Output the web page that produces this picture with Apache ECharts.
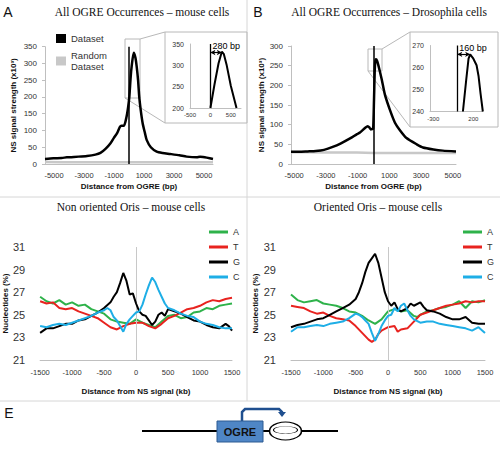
<!DOCTYPE html>
<html><head><meta charset="utf-8">
<script src="https://cdn.jsdelivr.net/npm/echarts@6/dist/echarts.min.js"></script>
<style>html,body{margin:0;padding:0;background:#fff}#c{width:500px;height:449px}</style>
</head><body><div id="c"></div><script>
// ---------------- DATA ----------------
const ticksA = [-5000, -3000, -1000, 1000, 3000, 5000];
const ticksInsetA = [-500, 0, 500];
const ticksInsetB = [-300, 200];
const peakShiftA = 280;   // bp
const peakShiftB = 160;   // bp
const peakLevelA = 330;
const peakLevelB = 266;

const datasetA = [[-5000,15],[-4500,17],[-4000,18],[-3700,20],[-3000,22],[-2500,24],[-2000,28],[-1700,33],[-1400,45],[-1100,62],[-900,78],[-700,93],[-550,110],[-450,114],[-300,114],[-150,140],[-50,170],[20,200],[100,260],[160,292],[280,332],[380,318],[460,290],[540,250],[610,200],[700,160],[815,121],[950,92],[1050,72],[1300,50],[1650,37],[2000,33],[2440,30],[3000,26],[3430,22],[4030,20],[4230,22],[4400,21],[4625,19],[5000,15]];
const randomA = [[-5000,6],[-4000,5],[-3000,5],[-2000,5],[-1000,5],[0,5],[1000,5],[2000,5],[3000,5],[4000,5],[5000,5]];
const insetA = [[0,200],[100,255],[200,305],[280,332],[330,326],[400,300],[500,252],[640,200]];

const datasetB = [[-5000,31],[-4500,31],[-4000,32],[-3500,33],[-3000,36],[-2430,44],[-2000,52],[-1420,65],[-1000,76],[-820,80],[-500,92],[-350,96],[-250,93],[-170,88],[-80,89],[-20,90],[30,162],[70,230],[100,258],[150,266],[220,262],[300,250],[500,215],[700,175],[1000,137],[1300,105],[1600,86],[2000,66],[2620,50],[3000,42],[3630,37],[4200,34],[5000,32]];
const randomB = [[-5000,30],[-4000,30],[-3000,29],[-2000,29],[-1000,29],[0,28],[1000,28],[2000,28],[3000,28],[4000,28],[5000,28]];
const insetB = [[70,240],[110,254],[140,264],[160,266],[200,264],[240,261],[265,256],[290,248],[318,240]];

const bases = ['A','T','G','C'];
const nonOriented = {
 A: [[-1500,26.6],[-1400,26.2],[-1300,26.0],[-1200,26.3],[-1100,25.9],[-1000,26.1],[-900,25.8],[-800,25.9],[-700,25.5],[-600,25.3],[-500,25.1],[-400,24.6],[-300,24.4],[-200,24.3],[-100,24.2],[0,24.6],[100,24.3],[200,24.1],[300,23.9],[400,24.4],[500,24.9],[600,25.0],[700,24.7],[800,24.8],[900,25.2],[1000,25.3],[1100,25.6],[1200,25.5],[1300,25.8],[1400,25.9],[1500,26.0]],
 T: [[-1500,26.2],[-1400,26.0],[-1300,26.1],[-1200,25.6],[-1100,25.5],[-1000,25.6],[-900,25.3],[-800,25.1],[-700,24.9],[-600,24.7],[-500,24.3],[-400,23.9],[-300,23.7],[-200,24.0],[-100,24.2],[0,24.3],[100,24.3],[200,24.0],[300,23.8],[400,24.2],[500,24.7],[600,24.9],[700,25.2],[800,25.5],[900,25.6],[1000,25.8],[1100,26.1],[1200,26.3],[1300,26.2],[1400,26.4],[1500,26.5]],
 G: [[-1500,23.4],[-1400,23.8],[-1300,23.8],[-1200,24.0],[-1100,24.2],[-1000,24.2],[-900,24.5],[-800,24.6],[-700,24.9],[-600,25.2],[-500,25.6],[-400,26.1],[-350,26.6],[-300,27.0],[-250,27.8],[-200,28.7],[-150,28.0],[-100,26.8],[-50,26.9],[0,26.0],[50,25.3],[100,25.0],[150,24.9],[200,24.5],[250,24.1],[300,24.4],[350,25.0],[400,25.2],[450,24.9],[500,25.5],[600,25.3],[700,25.1],[800,24.8],[900,24.5],[1000,24.4],[1100,24.1],[1200,23.9],[1300,23.8],[1400,24.2],[1450,24.0],[1500,23.6]],
 C: [[-1500,24.0],[-1400,23.9],[-1300,24.1],[-1200,24.2],[-1100,24.1],[-1000,24.3],[-900,24.5],[-800,24.7],[-700,24.9],[-600,25.2],[-500,25.4],[-450,25.6],[-400,25.4],[-350,24.8],[-300,24.5],[-250,24.0],[-200,23.5],[-150,24.2],[-100,24.6],[-50,24.9],[0,25.2],[50,25.3],[100,25.9],[150,26.8],[200,27.6],[250,28.3],[300,27.9],[350,27.2],[400,26.6],[450,26.0],[500,25.6],[600,25.4],[700,25.1],[800,24.9],[900,24.8],[1000,24.4],[1100,24.2],[1200,24.1],[1300,23.9],[1400,23.8],[1500,23.8]]
};
const oriented = {
 A: [[-1500,26.8],[-1400,26.3],[-1300,26.1],[-1200,26.2],[-1100,26.3],[-1000,26.0],[-900,25.9],[-800,25.8],[-700,25.6],[-600,25.3],[-500,25.2],[-400,24.9],[-300,24.5],[-200,24.2],[-100,24.6],[0,25.3],[100,25.5],[200,25.3],[300,25.4],[400,24.9],[450,24.8],[500,25.0],[600,25.3],[700,25.4],[800,25.6],[900,25.7],[1000,25.9],[1100,26.2],[1200,25.6],[1300,26.2],[1400,26.1],[1500,26.3]],
 T: [[-1500,25.8],[-1400,25.7],[-1300,25.6],[-1200,25.3],[-1100,25.1],[-1000,25.2],[-900,24.9],[-800,24.7],[-700,24.6],[-600,24.5],[-500,24.0],[-400,23.4],[-300,22.8],[-250,22.6],[-200,22.8],[-150,23.3],[-100,23.6],[0,23.9],[100,24.0],[150,23.5],[200,23.7],[300,23.8],[400,24.4],[500,25.0],[600,25.2],[700,25.4],[800,25.6],[900,25.8],[1000,25.9],[1100,26.0],[1200,26.2],[1300,26.1],[1400,26.2],[1500,26.2]],
 G: [[-1500,23.9],[-1400,24.1],[-1300,24.2],[-1200,24.4],[-1100,24.6],[-1000,24.7],[-900,25.0],[-800,25.3],[-700,25.6],[-600,25.9],[-500,26.4],[-450,27.0],[-400,27.8],[-350,28.8],[-300,29.6],[-250,30.0],[-200,30.4],[-150,29.6],[-100,28.3],[-50,27.0],[0,26.2],[50,25.8],[100,26.1],[150,25.5],[200,25.3],[300,25.6],[350,26.0],[400,25.8],[500,26.1],[550,25.7],[600,25.4],[700,25.3],[800,25.1],[900,24.8],[1000,24.6],[1100,24.6],[1200,24.8],[1300,24.3],[1400,24.2],[1500,24.2]],
 C: [[-1500,23.5],[-1400,23.9],[-1300,23.9],[-1200,24.0],[-1100,24.1],[-1000,24.0],[-900,24.2],[-800,24.3],[-700,24.4],[-600,24.7],[-500,25.1],[-450,25.0],[-400,24.8],[-350,24.5],[-300,24.2],[-250,23.4],[-200,22.7],[-150,23.3],[-100,24.0],[-50,24.5],[0,24.9],[50,25.0],[100,25.6],[150,25.3],[200,25.8],[250,26.0],[300,25.4],[350,24.9],[400,24.6],[500,24.3],[600,24.4],[700,24.4],[800,24.2],[900,24.1],[1000,24.0],[1100,23.9],[1200,23.8],[1300,23.6],[1400,23.9],[1500,23.4]]
};

// ---------------- STYLE ----------------
const SANS = 'Liberation Sans, Arial, sans-serif';
const SERIF = 'Liberation Serif, Times New Roman, serif';
const baseColors = {A:'#2eb24a', T:'#e8231f', G:'#000000', C:'#1eaee6'};
const AX = '#bfbfbf';
const TXT = '#333';
const plain = v => String(v);

function lbl(o) {
  return Object.assign({color:TXT, fontFamily:SANS, fontSize:8, formatter:plain}, o);
}
function valAxis(o) {
  return Object.assign({
    type: 'value', splitLine: {show:false},
    axisLine: {show:true, onZero:false, lineStyle:{color:AX, width:1}},
    axisTick: {show:false},
    axisLabel: lbl({}),
    nameTextStyle: {fontFamily:SANS, fontSize:8, fontWeight:'bold', color:'#111'}
  }, o);
}

const chart = echarts.init(document.getElementById('c'), null, {renderer:'svg'});

const xAxes = [
  valAxis({gridIndex:0, min:-5000, max:5000, position:'bottom', axisLabel:{show:false}}),
  valAxis({gridIndex:0, min:-5600, max:5600, position:'bottom', axisLine:{show:false, onZero:false},
    axisLabel:lbl({customValues:ticksA, fontSize:7.5, margin:7}),
    name:'Distance from OGRE (bp)', nameLocation:'middle', nameGap:18}),
  valAxis({gridIndex:1, min:-500, max:750, position:'bottom',
    axisLabel:lbl({customValues:ticksInsetA, fontSize:6, margin:4})}),
  valAxis({gridIndex:2, min:-5000, max:5000, position:'bottom', axisLabel:{show:false}}),
  valAxis({gridIndex:2, min:-5200, max:5200, position:'bottom', axisLine:{show:false, onZero:false},
    axisLabel:lbl({customValues:ticksA, fontSize:7.5, margin:7}),
    name:'Distance from OGRE (bp)', nameLocation:'middle', nameGap:18}),
  valAxis({gridIndex:3, min:-340, max:320, position:'bottom',
    axisLabel:lbl({customValues:ticksInsetB, fontSize:6, margin:4})}),
  valAxis({gridIndex:4, min:-1500, max:1500, interval:500, position:'bottom',
    axisLabel:lbl({fontSize:7.5, margin:8}),
    name:'Distance from NS signal (kb)', nameLocation:'middle', nameGap:27}),
  valAxis({gridIndex:5, min:-1500, max:1500, interval:500, position:'bottom',
    axisLabel:lbl({fontSize:7.5, margin:8}),
    name:'Distance from NS signal (kb)', nameLocation:'middle', nameGap:27})
];
const yAxes = [
  valAxis({gridIndex:0, min:0, max:350, interval:50, axisTick:{show:true, length:3, lineStyle:{color:AX}},
    name:'NS signal strength (x10³)', nameLocation:'middle', nameGap:28}),
  valAxis({gridIndex:1, min:200, max:350, interval:50, axisLabel:lbl({fontSize:7, margin:6})}),
  valAxis({gridIndex:2, min:0, max:300, interval:50, axisTick:{show:true, length:3, lineStyle:{color:AX}},
    name:'NS signal strength (x10³)', nameLocation:'middle', nameGap:24}),
  valAxis({gridIndex:3, min:240, max:270, interval:10, axisLabel:lbl({fontSize:7, margin:6})}),
  valAxis({gridIndex:4, min:21, max:31, interval:2, axisLine:{show:false},
    axisLabel:lbl({fontSize:11, margin:15}),
    name:'Nucleotides (%)', nameLocation:'middle', nameGap:25}),
  valAxis({gridIndex:5, min:21, max:31, interval:2, axisLine:{show:false},
    axisLabel:lbl({fontSize:11, margin:15}),
    name:'Nucleotides (%)', nameLocation:'middle', nameGap:25})
];

const vLine = (color, width) => ({symbol:'none', silent:true, animation:false, label:{show:false},
  lineStyle:{color:color, width:width, type:'solid'}, data:[{xAxis:0}]});

function arrowMark(shift, level) {
  return {
    silent:true, animation:false, symbol:'none',
    lineStyle:{color:'#000', width:1.2, type:'solid'},
    data:[
      {xAxis:0, label:{show:false}, lineStyle:{width:1.3}},
      [{coord:[0, level], symbol:'arrow', symbolSize:[4,5],
        label:{show:true, position:'insideStartTop', formatter: shift + ' bp', color:'#000', fontFamily:SANS, fontSize:9, distance:2}},
       {coord:[shift, level], symbol:'arrow', symbolSize:[4,5]}]
    ]
  };
}

const series = [
  {name:'Random Dataset', type:'line', xAxisIndex:0, yAxisIndex:0, data:randomA, color:'#c8c8c8', showSymbol:false, lineStyle:{width:2.5}},
  {name:'Dataset', type:'line', xAxisIndex:0, yAxisIndex:0, data:datasetA, color:'#000', showSymbol:false, smooth:0.2, lineStyle:{width:2.5}, markLine:vLine('#000',1.5)},
  {name:'insetA', type:'line', xAxisIndex:2, yAxisIndex:1, data:insetA, color:'#000', showSymbol:false, lineStyle:{width:2}, markLine:arrowMark(peakShiftA, peakLevelA)},
  {name:'Random Dataset', type:'line', xAxisIndex:3, yAxisIndex:2, data:randomB, color:'#c8c8c8', showSymbol:false, lineStyle:{width:2.5}},
  {name:'Dataset', type:'line', xAxisIndex:3, yAxisIndex:2, data:datasetB, color:'#000', showSymbol:false, smooth:0.2, lineStyle:{width:2.5}, markLine:vLine('#000',1.5)},
  {name:'insetB', type:'line', xAxisIndex:5, yAxisIndex:3, data:insetB, color:'#000', showSymbol:false, lineStyle:{width:2}, markLine:arrowMark(peakShiftB, peakLevelB)}
];
bases.forEach((b, i) => {
  series.push({name:b, type:'line', xAxisIndex:6, yAxisIndex:4, data:nonOriented[b], color:baseColors[b],
    showSymbol:false, lineStyle:{width:2}, z: 3 + i,
    markLine: i === 0 ? vLine('#c8c8c8', 1) : undefined});
});
bases.forEach((b, i) => {
  series.push({name:b, type:'line', xAxisIndex:7, yAxisIndex:5, data:oriented[b], color:baseColors[b],
    showSymbol:false, lineStyle:{width:2}, z: 3 + i,
    markLine: i === 0 ? vLine('#c8c8c8', 1) : undefined});
});

const legendBase = {orient:'vertical', icon:'rect', itemWidth:19, itemHeight:3, itemGap:5,
  textStyle:{fontFamily:SANS, fontSize:9, color:TXT, lineHeight:10}, selectedMode:false};

const sep = '#d6d6d6';
const gray = '#b8b8b8';
const txt = (x, y, s, font, size, weight, align) => ({type:'text', x:x, y:y, silent:true,
  style:{text:s, fontFamily:font, fontSize:size, fontWeight:weight||'normal', fill:'#111',
  align:align||'center', verticalAlign:'middle'}});
const ln = (x1,y1,x2,y2,color,w) => ({type:'line', silent:true, shape:{x1:x1,y1:y1,x2:x2,y2:y2}, style:{stroke:color, lineWidth:w}});

const graphics = [
  // separators
  ln(0,197,500,197,sep,1), ln(0,401,500,401,sep,1), ln(247,0,247,401,sep,1),
  // titles and panel letters
  txt(8,12,'A',SANS,14,'normal'), txt(142,12,'All OGRE Occurrences – mouse cells',SERIF,11.5),
  txt(258,12,'B',SANS,14,'normal'), txt(389,12,'All OGRE Occurrences – Drosophila cells',SERIF,11.5),
  txt(131,207,'Non oriented Oris – mouse cells',SERIF,11.5),
  txt(378,207,'Oriented Oris – mouse cells',SERIF,11.5),
  txt(9,413,'E',SANS,14,'normal'),
  // inset frames and zoom windows
  {type:'rect', silent:true, shape:{x:165,y:32,width:82,height:91}, style:{fill:'none', stroke:gray, lineWidth:1}},
  {type:'rect', silent:true, shape:{x:125,y:39,width:15,height:59}, style:{fill:'none', stroke:gray, lineWidth:1}},
  ln(140,39,165,32,gray,1), ln(125,98,165,123,gray,1),
  {type:'rect', silent:true, shape:{x:410,y:32,width:88,height:95}, style:{fill:'none', stroke:gray, lineWidth:1}},
  {type:'rect', silent:true, shape:{x:368,y:49,width:14,height:22}, style:{fill:'none', stroke:gray, lineWidth:1}},
  ln(382,49,410,32,gray,1), ln(368,71,410,127,gray,1),
  // panel E diagram
  ln(142,431,217,431,'#000',2), ln(263,431,270,431,'#000',2), ln(301,431,338,431,'#000',2),
  {type:'polyline', silent:true, shape:{points:[[242,421],[242,412],[245,409],[279,409],[282,412],[282,413]]},
    style:{stroke:'#1f4f8f', lineWidth:2.5, fill:'none'}},
  {type:'polygon', silent:true, shape:{points:[[278,412],[286,412],[282,417]]}, style:{fill:'#1f4f8f'}},
  {type:'rect', silent:true, shape:{x:217,y:421,width:46,height:21}, style:{fill:'#4f86c6', stroke:'#2d5a92', lineWidth:1}},
  txt(240,432,'OGRE',SANS,11,'bold'),
  {type:'circle', silent:true, x:285.5, y:431, scaleY:0.56, shape:{cx:0,cy:0,r:16}, style:{fill:'#fff', stroke:'#000', lineWidth:1.6}},
  {type:'circle', silent:true, x:285.5, y:430, scaleY:0.3, shape:{cx:0,cy:0,r:12}, style:{fill:'none', stroke:'#000', lineWidth:1.2}}
];

chart.setOption({
  animation:false,
  backgroundColor:'#fff',
  grid:[
    {left:45, top:46.7, width:168, height:117.3},
    {left:190, top:44, width:51, height:64},
    {left:291, top:46, width:165, height:118},
    {left:430, top:45.5, width:53, height:66},
    {left:39, top:247, width:193, height:113},
    {left:291, top:247, width:194, height:113}
  ],
  xAxis:xAxes, yAxis:yAxes, series:series,
  legend:[
    {orient:'vertical', icon:'rect', left:51, top:28, itemWidth:10, itemHeight:9, itemGap:6, selectedMode:false,
      data:['Dataset','Random Dataset'], formatter: n => n === 'Random Dataset' ? 'Random\nDataset' : n,
      textStyle:{fontFamily:SANS, fontSize:9.5, color:TXT, lineHeight:11}},
    Object.assign({left:204, top:222, data:bases}, legendBase),
    Object.assign({left:458, top:222, data:bases}, legendBase)
  ],
  graphic:graphics
});
</script></body></html>
